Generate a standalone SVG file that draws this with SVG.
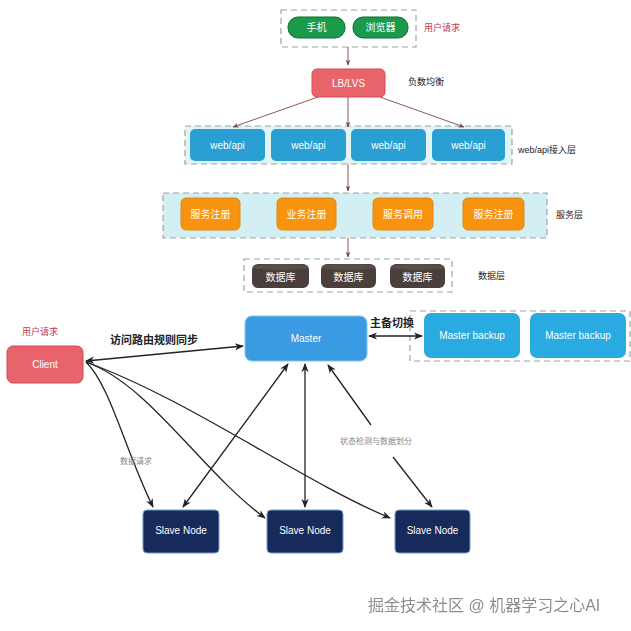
<svg xmlns="http://www.w3.org/2000/svg" width="631" height="631" viewBox="0 0 631 631">
<defs>
<style>
text{font-family:"Liberation Sans","Noto Sans CJK SC",sans-serif;}
.dash{fill:none;stroke:#9aa3a6;stroke-width:1.2;stroke-dasharray:6,4;}
.wt{fill:#ffffff;font-size:10px;text-anchor:middle;dominant-baseline:central;}
.lbl{fill:#222;font-size:9px;dominant-baseline:central;}
.red{fill:#c0394b;font-size:9px;dominant-baseline:central;}
.ln{fill:none;stroke:#8a5a5a;stroke-width:1;}
.bk{fill:none;stroke:#222;stroke-width:1.3;}
</style>
<filter id="sh" x="-5%" y="-30%" width="110%" height="160%"><feDropShadow dx="1" dy="1" stdDeviation="0.6" flood-color="#ffffff" flood-opacity="0.9"/></filter>
<marker id="ah" viewBox="0 0 10 10" refX="9" refY="5" markerWidth="7" markerHeight="7" orient="auto-start-reverse"><path d="M0,1 L10,5 L0,9 L3,5 Z" fill="#222"/></marker>
<marker id="ahs" viewBox="0 0 10 10" refX="9" refY="5" markerWidth="6" markerHeight="6" orient="auto-start-reverse"><path d="M0,1 L10,5 L0,9 L3,5 Z" fill="#6b4a4a"/></marker>
</defs>
<rect width="631" height="631" fill="#ffffff"/>

<g id="layers">
<rect class="dash" x="281" y="10" width="135" height="37"/>
<rect x="185" y="126" width="327" height="38" fill="#e3f4f7" stroke="#9aa3a6" stroke-width="1.2" stroke-dasharray="6,4"/>
<rect x="163" y="193" width="384" height="45" fill="#d4eff3" stroke="#9aa3a6" stroke-width="1.2" stroke-dasharray="6,4"/>
<rect class="dash" x="244" y="259" width="208" height="33"/>
<rect class="dash" x="410" y="311" width="220" height="50"/>
</g>

<g id="connectors">
<line class="ln" x1="348" y1="47" x2="348" y2="65" marker-end="url(#ahs)"/>
<line class="ln" x1="318" y1="97" x2="233" y2="127" marker-end="url(#ahs)"/>
<line class="ln" x1="348" y1="97" x2="348" y2="127" marker-end="url(#ahs)"/>
<line class="ln" x1="380" y1="97" x2="464" y2="127" marker-end="url(#ahs)"/>
<line class="ln" x1="348" y1="164" x2="348" y2="191" marker-end="url(#ahs)"/>
<line class="ln" x1="348" y1="238" x2="348" y2="257" marker-end="url(#ahs)"/>

<line class="bk" x1="86" y1="361" x2="243" y2="346" marker-start="url(#ah)" marker-end="url(#ah)"/>
<line class="bk" x1="369" y1="336" x2="422" y2="336" marker-start="url(#ah)" marker-end="url(#ah)"/>

<path class="bk" d="M86,362 C110,385 125,450 153,507" marker-end="url(#ah)"/>
<path class="bk" d="M86,362 C150,385 200,470 265,518" marker-end="url(#ah)"/>
<path class="bk" d="M86,362 C190,400 300,480 390,518" marker-end="url(#ah)"/>

<line class="bk" x1="183" y1="507" x2="288" y2="364" marker-start="url(#ah)" marker-end="url(#ah)"/>
<line class="bk" x1="305" y1="507" x2="305" y2="364" marker-start="url(#ah)" marker-end="url(#ah)"/>
<path class="bk" d="M371,425 L328,365" marker-end="url(#ah)"/>
<path class="bk" d="M393,457 L432,507" marker-end="url(#ah)"/>
</g>

<g id="n-phone"><rect x="288" y="17" width="57" height="21" rx="10" fill="#1a9a4a" stroke="#0f6e33"/><text class="wt" x="316.5" y="27.5" font-size="9">手机</text></g>
<g id="n-browser"><rect x="353" y="17" width="55" height="21" rx="10" fill="#1a9a4a" stroke="#0f6e33"/><text class="wt" x="380.5" y="27.5" font-size="9">浏览器</text></g>
<text class="red" x="424" y="28">用户请求</text>

<g id="n-lb"><rect x="312" y="69" width="73" height="28" rx="5" fill="#e8646a" stroke="#d24c55"/><text class="wt" x="348.5" y="83" font-size="9">LB/LVS</text></g>
<text class="lbl" x="408" y="82">负数均衡</text>

<g id="n-web1"><rect x="190" y="129" width="75" height="32" rx="5" fill="#2a9fd4"/><text class="wt" x="227.5" y="145">web/api</text></g>
<g id="n-web2"><rect x="271" y="129" width="75" height="32" rx="5" fill="#2a9fd4"/><text class="wt" x="308.5" y="145">web/api</text></g>
<g id="n-web3"><rect x="351" y="129" width="75" height="32" rx="5" fill="#2a9fd4"/><text class="wt" x="388.5" y="145">web/api</text></g>
<g id="n-web4"><rect x="432" y="129" width="73" height="32" rx="5" fill="#2a9fd4"/><text class="wt" x="468.5" y="145">web/api</text></g>
<text class="lbl" x="518" y="150">web/api接入层</text>

<g id="n-svc1"><rect x="181" y="198" width="59" height="32" rx="5" fill="#f7930f" stroke="#d88a1a"/><text class="wt" x="210.5" y="214" font-size="7">服务注册</text></g>
<g id="n-svc2"><rect x="277" y="198" width="59" height="32" rx="5" fill="#f7930f" stroke="#d88a1a"/><text class="wt" x="306.5" y="214" font-size="7">业务注册</text></g>
<g id="n-svc3"><rect x="373" y="198" width="60" height="32" rx="5" fill="#f7930f" stroke="#d88a1a"/><text class="wt" x="403" y="214" font-size="7">服务调用</text></g>
<g id="n-svc4"><rect x="463" y="198" width="61" height="32" rx="5" fill="#f7930f" stroke="#d88a1a"/><text class="wt" x="493.5" y="214" font-size="7">服务注册</text></g>
<text class="lbl" x="556" y="215">服务层</text>

<g id="n-db1"><rect x="252" y="264" width="57" height="24" rx="6" fill="#4a3f3c"/><ellipse cx="280.5" cy="267" rx="28" ry="3" fill="#5a4e4a"/><text class="wt" x="280.5" y="277" font-size="8">数据库</text></g>
<g id="n-db2"><rect x="321" y="264" width="55" height="24" rx="6" fill="#4a3f3c"/><ellipse cx="348.5" cy="267" rx="27" ry="3" fill="#5a4e4a"/><text class="wt" x="348.5" y="277" font-size="8">数据库</text></g>
<g id="n-db3"><rect x="390" y="264" width="55" height="24" rx="6" fill="#4a3f3c"/><ellipse cx="417.5" cy="267" rx="27" ry="3" fill="#5a4e4a"/><text class="wt" x="417.5" y="277" font-size="8">数据库</text></g>
<text class="lbl" x="478" y="276">数据层</text>

<text class="red" x="22" y="332" font-size="11">用户请求</text>
<g id="n-client"><rect x="7" y="346" width="76" height="37" rx="6" fill="#e8646a" stroke="#c94e57"/><text class="wt" x="45" y="364.5" font-size="12">Client</text></g>
<text x="110" y="340" font-size="11" font-weight="bold" fill="#222" dominant-baseline="central">访问路由规则同步</text>

<g id="n-master"><rect x="245" y="316" width="122" height="45" rx="7" fill="#3a9ae2" stroke="#7fc6f0"/><text class="wt" x="306" y="338" font-size="11">Master</text></g>
<text x="370" y="323" font-size="11" font-weight="bold" fill="#222" dominant-baseline="central">主备切换</text>

<g id="n-backup1"><rect x="424" y="313" width="96" height="45" rx="7" fill="#29abe2"/><text class="wt" x="472" y="335.5" font-size="12">Master backup</text></g>
<g id="n-backup2"><rect x="530" y="313" width="96" height="45" rx="7" fill="#29abe2"/><text class="wt" x="578" y="335.5" font-size="12">Master backup</text></g>

<text x="120" y="461" font-size="8" fill="#888" dominant-baseline="central">数据请求</text>
<text x="340" y="441" font-size="8" fill="#888" dominant-baseline="central">状态检测与数据划分</text>

<g id="n-slave1"><rect x="143" y="510" width="76" height="43" rx="4" fill="#172a5c" stroke="#6ea0c8"/><text class="wt" x="181" y="530" font-size="10">Slave Node</text></g>
<g id="n-slave2"><rect x="267" y="510" width="76" height="43" rx="4" fill="#172a5c" stroke="#6ea0c8"/><text class="wt" x="305" y="530" font-size="10">Slave Node</text></g>
<g id="n-slave3"><rect x="395" y="510" width="75" height="43" rx="4" fill="#172a5c" stroke="#6ea0c8"/><text class="wt" x="432.5" y="530" font-size="10">Slave Node</text></g>

<text x="368" y="605" font-size="16" fill="#8a8a8a" dominant-baseline="central" filter="url(#sh)">掘金技术社区 @ 机器学习之心AI</text>
</svg>
